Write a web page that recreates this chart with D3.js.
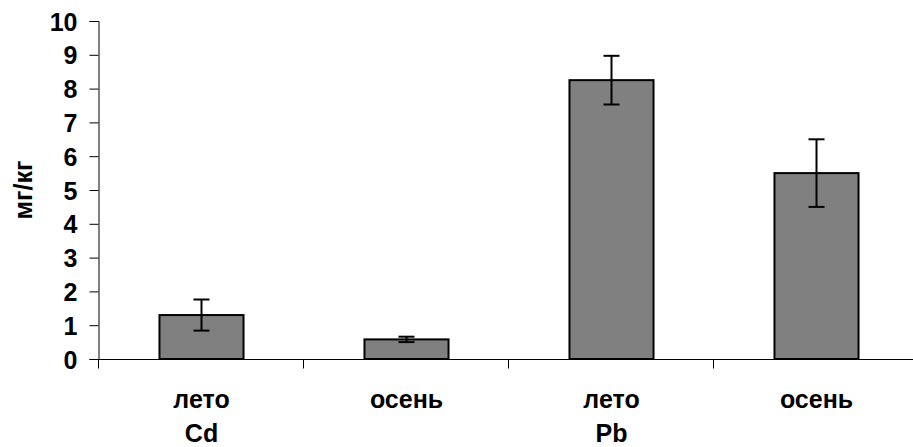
<!DOCTYPE html>
<html>
<head>
<meta charset="utf-8">
<script src="https://cdn.jsdelivr.net/npm/d3@7"></script>
<style>
  body { margin: 0; background: #fff; }
  text { font-family: "Liberation Sans", Arial, sans-serif; font-weight: bold; }
</style>
</head>
<body>
<div id="canvas"></div>
<script>
// data
const seasons = ["лето", "осень", "лето", "осень"];
const elements = ["Cd", "", "Pb", ""];
const means = [1.3, 0.58, 8.25, 5.5];
const errors = [0.46, 0.08, 0.72, 1.0];
const yTicks = [0, 1, 2, 3, 4, 5, 6, 7, 8, 9, 10];

const width = 913, height = 447;
const margin = { top: 21, right: -6, bottom: 88, left: 99 };
const fontSize = 25;

const svg = d3.select("#canvas")
    .append("svg")
    .attr("width", width)
    .attr("height", height);

const x = d3.scaleBand()
    .domain(d3.range(means.length))
    .range([margin.left, width - margin.right])
    .paddingInner(0.59)
    .paddingOuter(0.295);

const y = d3.scaleLinear()
    .domain([0, 10])
    .range([height - margin.bottom, margin.top]);

// y axis
const yAxis = svg.append("g")
    .attr("transform", `translate(${margin.left - 0.5},0)`)
    .call(d3.axisLeft(y).tickValues(yTicks).tickSize(9).tickPadding(12).tickFormat(d3.format("d")));
yAxis.select(".domain").attr("stroke", "#000");
yAxis.selectAll(".tick line").attr("stroke", "#000");
yAxis.selectAll("text")
    .attr("font-size", fontSize)
    .attr("fill", "#000")
    .attr("dy", "0.36em");

// x axis (ticks at band boundaries)
const xBase = y(0) + 0.5;
svg.append("line")
    .attr("x1", margin.left - 9).attr("x2", width)
    .attr("y1", xBase).attr("y2", xBase)
    .attr("stroke", "#000");
const step = x.step();
svg.append("g")
    .selectAll("line")
    .data(d3.range(means.length + 1))
    .join("line")
    .attr("x1", i => Math.round(margin.left + i * step) - 0.5)
    .attr("x2", i => Math.round(margin.left + i * step) - 0.5)
    .attr("y1", xBase)
    .attr("y2", xBase + 9)
    .attr("stroke", "#000");

// bars
svg.append("g")
    .selectAll("rect")
    .data(means)
    .join("rect")
    .attr("x", (d, i) => x(i))
    .attr("y", d => y(d))
    .attr("width", x.bandwidth())
    .attr("height", d => y(0) - y(d))
    .attr("fill", "#808080")
    .attr("stroke", "#000")
    .attr("stroke-width", 2);

// error bars
const eb = svg.append("g")
    .selectAll("g")
    .data(means)
    .join("g")
    .attr("stroke", "#000")
    .attr("stroke-width", 2);
eb.append("line")
    .attr("x1", (d, i) => x(i) + x.bandwidth() / 2)
    .attr("x2", (d, i) => x(i) + x.bandwidth() / 2)
    .attr("y1", (d, i) => y(d + errors[i]))
    .attr("y2", (d, i) => y(d - errors[i]));
eb.append("line")
    .attr("x1", (d, i) => x(i) + x.bandwidth() / 2 - 8)
    .attr("x2", (d, i) => x(i) + x.bandwidth() / 2 + 8)
    .attr("y1", (d, i) => y(d + errors[i]))
    .attr("y2", (d, i) => y(d + errors[i]));
eb.append("line")
    .attr("x1", (d, i) => x(i) + x.bandwidth() / 2 - 8)
    .attr("x2", (d, i) => x(i) + x.bandwidth() / 2 + 8)
    .attr("y1", (d, i) => y(d - errors[i]))
    .attr("y2", (d, i) => y(d - errors[i]));

// category labels
const labels = svg.append("g")
    .selectAll("text")
    .data(seasons)
    .join("text")
    .attr("text-anchor", "middle")
    .attr("font-size", fontSize)
    .attr("fill", "#000");
labels.append("tspan")
    .attr("x", (d, i) => x(i) + x.bandwidth() / 2)
    .attr("y", 408)
    .text(d => d);
labels.append("tspan")
    .attr("x", (d, i) => x(i) + x.bandwidth() / 2)
    .attr("y", 442)
    .text((d, i) => elements[i]);

// y title
svg.append("text")
    .attr("transform", `translate(32,${(margin.top + height - margin.bottom) / 2}) rotate(-90)`)
    .attr("text-anchor", "middle")
    .attr("font-size", fontSize)
    .attr("fill", "#000")
    .text("мг/кг");
</script>
</body>
</html>
